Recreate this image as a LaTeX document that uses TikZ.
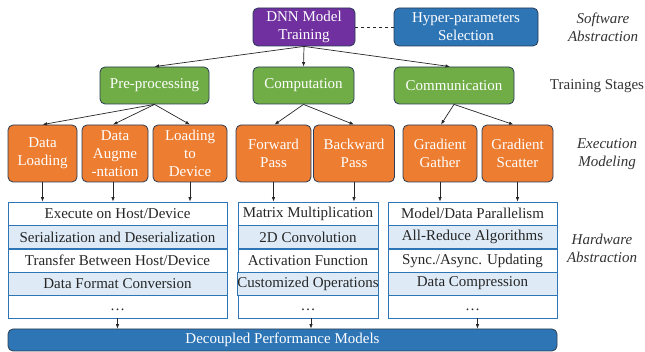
\documentclass[tikz,border=0pt]{standalone}
\usepackage{fontspec}
\setmainfont{Liberation Serif}
\usetikzlibrary{arrows.meta}
\definecolor{cpurple}{HTML}{7030A0}
\definecolor{cblue}{HTML}{2E75B6}
\definecolor{cgreen}{HTML}{70AD47}
\definecolor{corange}{HTML}{ED7D31}
\definecolor{cedge}{HTML}{2A3B55}
\definecolor{ctbl}{HTML}{2E75B6}
\definecolor{cfill}{HTML}{DEEBF7}
\definecolor{clabel}{HTML}{333333}
\definecolor{cbar}{HTML}{2F4052}
\tikzset{
  box/.style={draw=cedge, line width=0.8pt, rounded corners=5pt, text=white, align=center, inner sep=0pt, font=\fontsize{15}{18}\selectfont},
  pbox/.style={box, fill=cpurple},
  bbox/.style={box, fill=cblue},
  gbox/.style={box, fill=cgreen, minimum height=37pt},
  obox/.style={box, fill=corange, minimum height=57pt},
  row/.style={draw=ctbl, line width=0.8pt, inner sep=0pt, minimum height=23pt, text=black!85, font=\fontsize{15}{18}\selectfont},
  rowf/.style={row, fill=cfill},
  lbl/.style={text=clabel, align=center, font=\fontsize{15}{18}\selectfont},
  arr/.style={-{Latex[length=4.5pt,width=3.5pt]}, line width=0.7pt, draw=black!85},
}
\newcommand{\lowdots}{\raisebox{-4pt}[0pt][0pt]{\dots}}
\begin{document}
\begin{tikzpicture}[x=1pt,y=-1pt]
\useasboundingbox (0,0) rectangle (645,352);
% top row
\node[pbox, minimum width=102pt, minimum height=38pt] (dnn) at (304,27) {DNN Model\\Training};
\node[bbox, minimum width=144pt, minimum height=38pt] (hyp) at (466,27) {Hyper-parameters\\Selection};
\draw[dashed, line width=0.8pt, black!85] (dnn.east) -- (hyp.west);
% stages
\node[gbox, minimum width=109pt] (pre) at (154.5,85.5) {Pre-processing};
\node[gbox, minimum width=101pt] (comp) at (303.5,85.5) {Computation};
\node[gbox, minimum width=120pt] (comm) at (454,85.5) {Communication};
% execution
\node[obox, minimum width=69pt] (dl) at (42.5,153.5) {Data\\Loading};
\node[obox, minimum width=66pt] (da) at (115,153.5) {Data\\Augme\\-ntation};
\node[obox, minimum width=74pt] (ld) at (190,153.5) {Loading\\to\\Device};
\node[obox, minimum width=75pt] (fp) at (273.5,153.5) {Forward\\Pass};
\node[obox, minimum width=81pt] (bp) at (354,153.5) {Backward\\Pass};
\node[obox, minimum width=74pt] (gg) at (440,153.5) {Gradient\\Gather};
\node[obox, minimum width=71pt] (gs) at (517.5,153.5) {Gradient\\Scatter};
% arrows
\draw[arr] (dnn.south) -- (pre.north);
\draw[arr] (dnn.south) -- (comp.north);
\draw[arr] (dnn.south) -- ([xshift=-4pt]comm.north);
\draw[arr] (pre.south) -- (dl.north);
\draw[arr] (pre.south) -- ([xshift=-2pt]da.north);
\draw[arr] (pre.south) -- (ld.north);
\draw[arr] (comp.south) -- ([xshift=1pt]fp.north);
\draw[arr] (comp.south) -- (bp.north);
\draw[arr] (comm.south) -- ([xshift=1pt]gg.north);
\draw[arr] (comm.south) -- ([xshift=-4pt]gs.north);
% tables
\node[row, minimum width=219pt] (a1) at (117.5,213.5) {Execute on Host/Device};
\node[rowf, minimum width=219pt] (a2) at (117.5,237) {Serialization and Deserialization};
\node[row, minimum width=219pt] (a3) at (117.5,260.5) {Transfer Between Host/Device};
\node[rowf, minimum width=219pt] (a4) at (117.5,283.5) {Data Format Conversion};
\node[row, minimum width=219pt] (a5) at (117.5,306.5) {\lowdots};
\node[row, minimum width=140pt] (b1) at (308,213.5) {Matrix Multiplication};
\node[rowf, minimum width=140pt] (b2) at (308,237) {2D Convolution};
\node[row, minimum width=140pt] (b3) at (308,260.5) {Activation Function};
\node[rowf, minimum width=140pt] (b4) at (308,283.5) {Customized Operations};
\node[row, minimum width=140pt] (b5) at (308,306.5) {\lowdots};
\node[row, minimum width=169pt] (c1) at (472.5,213.5) {Model/Data Parallelism};
\node[rowf, minimum width=169pt] (c2) at (472.5,237) {All-Reduce Algorithms};
\node[row, minimum width=169pt] (c3) at (472.5,260.5) {Sync./Async. Updating};
\node[rowf, minimum width=169pt] (c4) at (472.5,283.5) {Data Compression};
\node[row, minimum width=169pt] (c5) at (472.5,306.5) {\lowdots};
% vertical arrows
\draw[arr] (dl.south) -- (dl.south |- a1.north);
\draw[arr] ([xshift=-2pt]da.south) -- ([xshift=-2pt]da.south |- a1.north);
\draw[arr] (ld.south) -- (ld.south |- a1.north);
\draw[arr] (fp.south) -- (fp.south |- b1.north);
\draw[arr] (bp.south) -- (bp.south |- b1.north);
\draw[arr] (gg.south) -- (gg.south |- c1.north);
\draw[arr] (gs.south) -- (gs.south |- c1.north);
% bottom bar
\node[draw=cbar, line width=0.8pt, fill=cblue, rounded corners=5pt, minimum width=549pt, minimum height=22pt, inner sep=0pt, text=white, font=\fontsize{15}{18}\selectfont] (bar) at (282.5,340) {Decoupled Performance Models};
\draw[arr] (a5.south) -- (a5.south |- bar.north);
\draw[arr] ([xshift=3pt]b5.south) -- ([xshift=3pt]b5.south |- bar.north);
\draw[arr] ([xshift=5pt]c5.south) -- ([xshift=5pt]c5.south |- bar.north);
% labels
\node[lbl, font=\fontsize{15}{18}\selectfont\itshape] (l1) at (603,27) {Software\\Abstraction};
\node[lbl] (l2) at (597,86) {Training Stages};
\node[lbl, font=\fontsize{15}{18}\selectfont\itshape] (l3) at (607,154) {Execution\\Modeling};
\node[lbl, font=\fontsize{15}{18}\selectfont\itshape] (l4) at (602,248) {Hardware\\Abstraction};
\end{tikzpicture}
\end{document}
